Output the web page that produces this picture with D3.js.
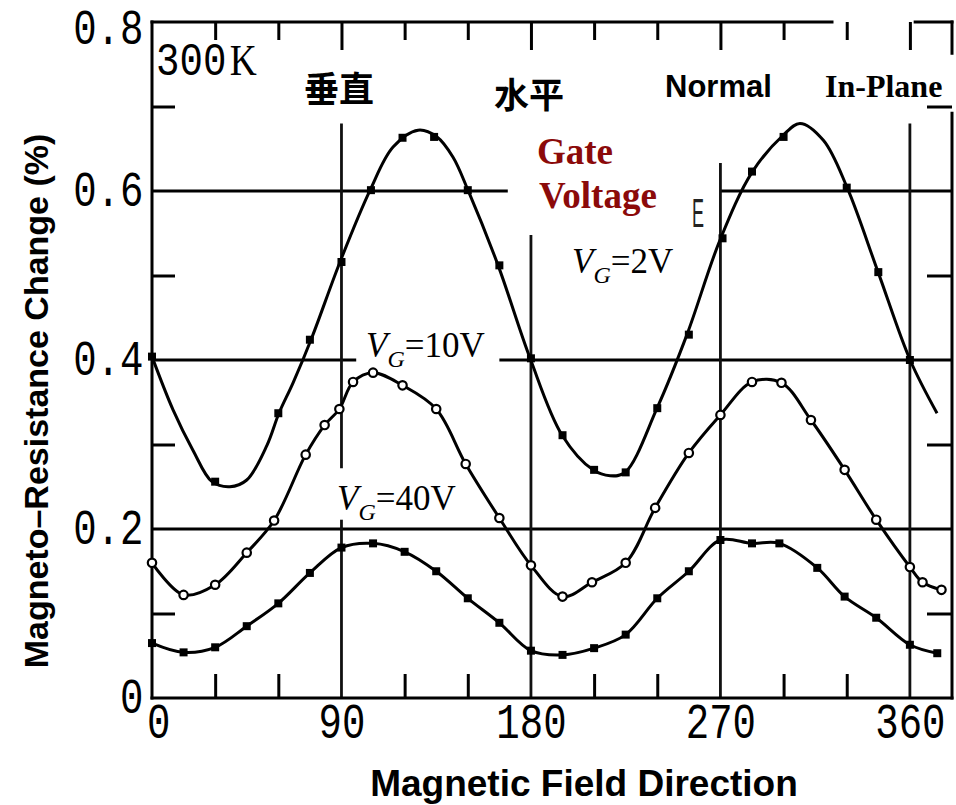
<!DOCTYPE html>
<html>
<head>
<meta charset="utf-8">
<script src="https://cdn.jsdelivr.net/npm/d3@7"></script>
<style>
body { margin: 0; background: #fff; }
svg { display: block; }
</style>
</head>
<body>
<script>
//values: field angle (deg) vs MR change (%)

//VG = 2V, the fitted curve and the filled markers
var vg2CurveAngles = [0, 10, 19.5, 28.5, 37, 45, 54.6, 60.3, 67, 76, 89.3, 103.6, 114.5, 126.4, 135.4, 143, 150.1, 164.4, 179.6, 194.8, 209.5, 217.6, 224.7, 239.9, 254.1, 269.8, 285, 299.8, 307.8, 318.9, 330.2, 344.9, 360.1, 372.9];
var vg2CurveValues = [0.404, 0.341, 0.293, 0.256, 0.250, 0.258, 0.299, 0.337, 0.373, 0.427, 0.516, 0.601, 0.652, 0.672, 0.664, 0.640, 0.601, 0.512, 0.402, 0.311, 0.270, 0.263, 0.267, 0.343, 0.430, 0.542, 0.622, 0.666, 0.680, 0.660, 0.604, 0.504, 0.400, 0.337];
var vg2MarkAngles = [0, 30, 60, 75, 90, 104, 119, 134, 150, 165, 180, 195, 210, 225, 240, 255, 271, 285, 300, 330, 345, 360];
var vg2MarkValues = [0.404, 0.256, 0.337, 0.424, 0.516, 0.601, 0.663, 0.664, 0.601, 0.512, 0.402, 0.311, 0.270, 0.267, 0.343, 0.430, 0.544, 0.623, 0.664, 0.604, 0.504, 0.400];

//VG = 10V, open circles
var vg10Angles = [0, 15, 30, 45, 58, 73, 82, 89, 95.5, 105, 119, 135, 149, 165, 180, 195, 209, 225, 239, 255, 270, 285, 299, 313, 329, 344, 360, 366, 375];
var vg10Values = [0.160, 0.122, 0.134, 0.172, 0.210, 0.288, 0.323, 0.342, 0.374, 0.385, 0.370, 0.342, 0.277, 0.213, 0.157, 0.120, 0.137, 0.160, 0.225, 0.290, 0.335, 0.374, 0.373, 0.329, 0.270, 0.211, 0.155, 0.137, 0.128];

//VG = 40V, filled markers
var vg40Angles = [0, 15, 30, 45, 60, 75, 90, 105, 120, 135, 150, 165, 180, 195, 210, 225, 240, 255, 270, 285, 298, 316, 329, 344, 360, 373];
var vg40Values = [0.065, 0.054, 0.060, 0.085, 0.112, 0.148, 0.178, 0.183, 0.173, 0.150, 0.118, 0.089, 0.056, 0.051, 0.059, 0.075, 0.118, 0.150, 0.187, 0.183, 0.183, 0.154, 0.120, 0.095, 0.063, 0.053];

var xLabelTicks = [0, 90, 180, 270, 360];
var xMinorTicks = [30, 60, 120, 150, 210, 240, 300, 330];
var yLabelTicks = [0, 0.2, 0.4, 0.6, 0.8];
var yMinorTicks = [0.1, 0.3, 0.5, 0.7];

window.onload = drawChart;

function zip(a, b){
    return a.map(function(d, i){ return [d, b[i]]; });
}

function drawChart(){
    var W = 956, H = 805;
    var margin = {top: 22, right: 4, bottom: 107, left: 152},
        width = W - margin.left - margin.right,
        height = H - margin.top - margin.bottom;

    var svg = d3.select("body").append("svg")
        .attr("width", W)
        .attr("height", H);

    var g = svg.append("g")
        .attr("transform", "translate(" + margin.left + "," + margin.top + ")");

    var x = d3.scaleLinear().domain([0, 380]).range([0, width]);
    var y = d3.scaleLinear().domain([0, 0.8]).range([height, 0]);

    //grid lines, with gaps where the labels sit in the original
    var hGrid = [
        {v: 0.2, a0: 0, a1: 380},
        {v: 0.4, a0: 0, a1: 97},
        {v: 0.4, a0: 165, a1: 380},
        {v: 0.6, a0: 0, a1: 169},
        {v: 0.6, a0: 270, a1: 380}
    ];
    var vGrid = [
        {a: 90, v0: 0, v1: 0.211},
        {a: 90, v0: 0.272, v1: 0.68},
        {a: 180, v0: 0, v1: 0.548},
        {a: 270, v0: 0, v1: 0.633},
        {a: 360, v0: 0, v1: 0.68}
    ];

    g.selectAll(".hgrid")
        .data(hGrid)
        .enter()
        .append("line")
        .attr("class", "hgrid")
        .attr("x1", function(d){ return x(d.a0); })
        .attr("x2", function(d){ return x(d.a1); })
        .attr("y1", function(d){ return y(d.v); })
        .attr("y2", function(d){ return y(d.v); })
        .attr("stroke", "#000")
        .attr("stroke-width", 3);

    g.selectAll(".vgrid")
        .data(vGrid)
        .enter()
        .append("line")
        .attr("class", "vgrid")
        .attr("x1", function(d){ return x(d.a); })
        .attr("x2", function(d){ return x(d.a); })
        .attr("y1", function(d){ return y(d.v0); })
        .attr("y2", function(d){ return y(d.v1); })
        .attr("stroke", "#111")
        .attr("stroke-width", 2.8);

    //frame (top and right edges are broken in the scan)
    var frame = [
        [[0, 0], [0, 0.8]],
        [[0, 0], [380, 0]],
        [[0, 0.8], [323, 0.8]],
        [[362.5, 0.8], [380, 0.8]],
        [[380, 0.8], [380, 0.763]],
        [[380, 0.692], [380, 0]]
    ];
    g.selectAll(".frame")
        .data(frame)
        .enter()
        .append("line")
        .attr("class", "frame")
        .attr("x1", function(d){ return x(d[0][0]); })
        .attr("y1", function(d){ return y(d[0][1]); })
        .attr("x2", function(d){ return x(d[1][0]); })
        .attr("y2", function(d){ return y(d[1][1]); })
        .attr("stroke", "#000")
        .attr("stroke-width", 3)
        .attr("stroke-linecap", "square");

    //inward ticks
    function tickAxis(axis, transform){
        var a = g.append("g")
            .attr("class", "ticks")
            .attr("transform", transform || null)
            .call(axis);
        a.select(".domain").remove();
        a.selectAll("line").attr("stroke", "#000").attr("stroke-width", 3);
        return a;
    }
    tickAxis(d3.axisTop(x).tickValues(xMinorTicks).tickSize(-18).tickFormat(""));
    tickAxis(d3.axisTop(x).tickValues([90, 180, 270, 360]).tickSize(-28).tickFormat(""));
    tickAxis(d3.axisBottom(x).tickValues(xMinorTicks).tickSize(-24).tickFormat(""), "translate(0," + height + ")");
    tickAxis(d3.axisLeft(y).tickValues(yMinorTicks).tickSize(-23).tickFormat(""));
    tickAxis(d3.axisRight(y).tickValues(yMinorTicks).tickSize(-25).tickFormat(""), "translate(" + width + ",0)");

    //tick labels in the narrow typewriter style of the scan
    var xl = g.append("g")
        .attr("transform", "translate(0," + height + ")")
        .call(d3.axisBottom(x).tickValues(xLabelTicks).tickSize(0).tickPadding(4).tickFormat(d3.format("d")));
    xl.select(".domain").remove();
    xl.selectAll("text")
        .style("font-family", "'Liberation Mono', monospace")
        .style("font-size", "50px")
        .attr("fill", "#000")
        .attr("transform", "scale(0.78,1)");
    xl.select(".tick text").attr("x", 8);

    var yl = g.append("g")
        .call(d3.axisLeft(y).tickValues(yLabelTicks).tickSize(0).tickPadding(11)
            .tickFormat(function(d){ return d === 0 ? "0" : d.toFixed(1); }));
    yl.select(".domain").remove();
    yl.selectAll("text")
        .style("font-family", "'Liberation Mono', monospace")
        .style("font-size", "50px")
        .attr("fill", "#000")
        .attr("dy", function(d){ return d === 0.8 ? "0.42em" : "0.28em"; })
        .attr("transform", "scale(0.78,1)");

    //curves
    var line = d3.line()
        .x(function(d){ return x(d[0]); })
        .y(function(d){ return y(d[1]); })
        .curve(d3.curveCatmullRom.alpha(0.5));

    var curves = [zip(vg2CurveAngles, vg2CurveValues), zip(vg10Angles, vg10Values), zip(vg40Angles, vg40Values)];
    g.selectAll(".curve")
        .data(curves)
        .enter()
        .append("path")
        .attr("class", "curve")
        .attr("d", line)
        .attr("fill", "none")
        .attr("stroke", "#000")
        .attr("stroke-width", 3);

    //markers
    var square = d3.symbol().type(d3.symbolSquare).size(64);
    var filled = zip(vg2MarkAngles, vg2MarkValues).concat(zip(vg40Angles, vg40Values));
    g.selectAll(".dotFilled")
        .data(filled)
        .enter()
        .append("path")
        .attr("class", "dotFilled")
        .attr("d", square)
        .attr("transform", function(d){ return "translate(" + x(d[0]) + "," + y(d[1]) + ")"; })
        .attr("fill", "#000");

    g.selectAll(".dotOpen")
        .data(zip(vg10Angles, vg10Values))
        .enter()
        .append("circle")
        .attr("class", "dotOpen")
        .attr("cx", function(d){ return x(d[0]); })
        .attr("cy", function(d){ return y(d[1]); })
        .attr("r", 4.2)
        .attr("fill", "#fff")
        .attr("stroke", "#000")
        .attr("stroke-width", 2.2);

    //annotations
    var t300 = svg.append("text")
        .attr("x", 156)
        .attr("y", 75)
        .style("font-family", "'Liberation Mono', monospace")
        .style("font-size", "46px")
        .attr("transform", "translate(156,0) scale(0.85,1) translate(-156,0)");
    t300.append("tspan").text("300");
    t300.append("tspan").style("font-family", "'Liberation Serif', serif").style("font-size", "44px").attr("dx", 4).text("K");

    svg.append("text")
        .attr("x", 304).attr("y", 102)
        .style("font-family", "'Noto Sans CJK SC'")
        .style("font-weight", "bold")
        .style("font-size", "35px")
        .text("垂直");

    svg.append("text")
        .attr("x", 494).attr("y", 108)
        .style("font-family", "'Noto Sans CJK SC'")
        .style("font-weight", "bold")
        .style("font-size", "35px")
        .text("水平");

    svg.append("text")
        .attr("x", 665).attr("y", 97)
        .style("font-family", "'Liberation Sans', Arial, sans-serif")
        .style("font-weight", "bold")
        .style("font-size", "31px")
        .text("Normal");

    svg.append("text")
        .attr("x", 825).attr("y", 97)
        .style("font-family", "'Liberation Serif', serif")
        .style("font-weight", "bold")
        .style("font-size", "32px")
        .text("In-Plane");

    svg.append("text")
        .attr("x", 537).attr("y", 164)
        .style("font-family", "'Liberation Serif', serif")
        .style("font-weight", "bold")
        .style("font-size", "37px")
        .attr("fill", "#8b0a0a")
        .text("Gate");

    svg.append("text")
        .attr("x", 539).attr("y", 208)
        .style("font-family", "'Liberation Serif', serif")
        .style("font-weight", "bold")
        .style("font-size", "37px")
        .attr("fill", "#8b0a0a")
        .text("Voltage");

    //scan debris next to the legend
    svg.append("text")
        .attr("transform", "translate(692,227) scale(0.45,1)")
        .style("font-family", "'Liberation Sans', sans-serif")
        .style("font-size", "40px")
        .attr("fill", "#222")
        .text("E");

    function vgLabel(px, py, volts){
        var t = svg.append("text")
            .attr("x", px).attr("y", py)
            .style("font-family", "'Liberation Serif', serif")
            .style("font-size", "35px");
        t.append("tspan").style("font-style", "italic").text("V");
        t.append("tspan").style("font-style", "italic").style("font-size", "24px").attr("dy", 10).text("G");
        t.append("tspan").attr("dy", -10).text("=" + volts + "V");
    }
    vgLabel(572, 273, 2);
    vgLabel(366, 357, 10);
    vgLabel(337, 510, 40);

    //axis titles
    svg.append("text")
        .attr("x", 584).attr("y", 796)
        .attr("text-anchor", "middle")
        .style("font-family", "'Liberation Sans', Arial, sans-serif")
        .style("font-weight", "bold")
        .style("font-size", "37px")
        .text("Magnetic Field Direction");

    svg.append("text")
        .attr("transform", "translate(48,401) rotate(-90)")
        .attr("text-anchor", "middle")
        .style("font-family", "'Liberation Sans', Arial, sans-serif")
        .style("font-weight", "bold")
        .style("font-size", "34px")
        .text("Magneto\u2013Resistance Change (%)");
}
</script>
</body>
</html>
